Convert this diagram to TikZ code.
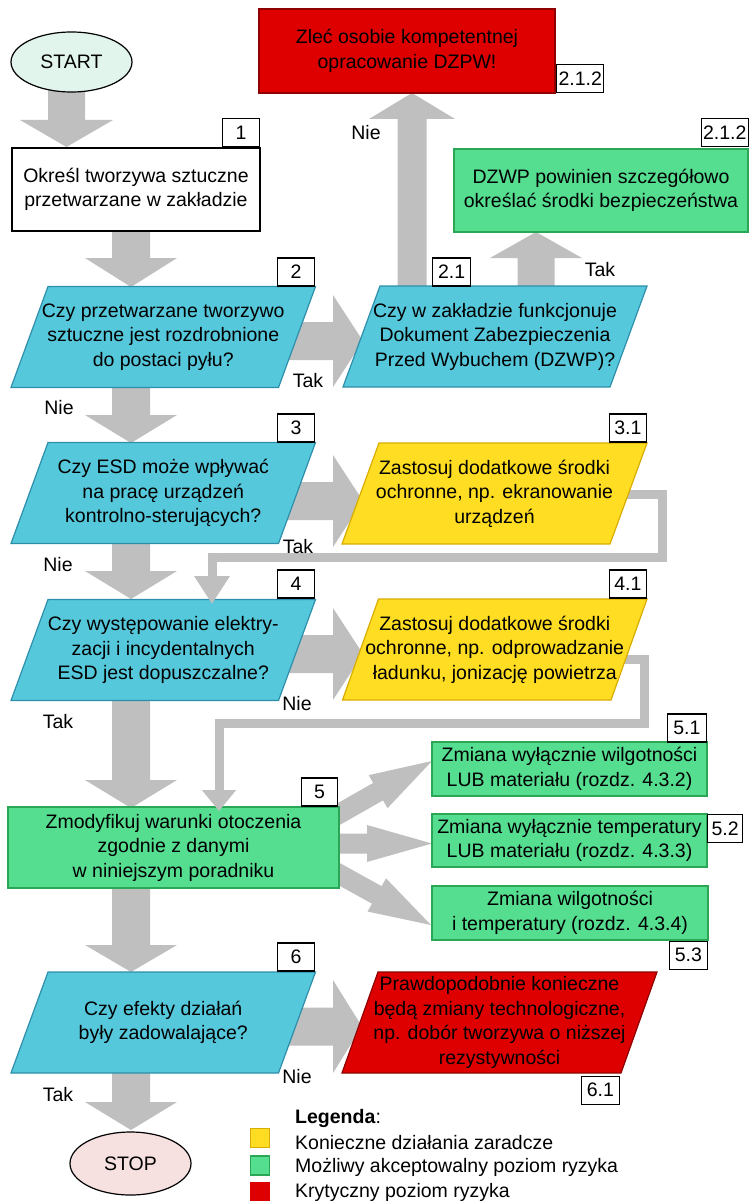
\documentclass[tikz,border=0pt]{standalone}
\usepackage{fontspec}
\setmainfont{Liberation Sans}
\usetikzlibrary{calc,arrows.meta,shapes.geometric}

\definecolor{agray}{HTML}{BFBFBF}
\definecolor{qblue}{HTML}{56C8DC}
\definecolor{qbluedk}{HTML}{2E8FAB}
\definecolor{ayel}{HTML}{FFDD22}
\definecolor{ayeldk}{HTML}{D9AC00}
\definecolor{agrn}{HTML}{55DD90}
\definecolor{agrndk}{HTML}{2BA655}
\definecolor{ared}{HTML}{DE0000}
\definecolor{areddk}{HTML}{900000}
\definecolor{startfill}{HTML}{E2F5EC}
\definecolor{stopfill}{HTML}{F6E0E0}

\newcommand{\ftsz}{\fontsize{19.5}{24.5}\selectfont}

% block arrow: from, to, shaft half width, head half width, head length
\newcommand{\barrow}[5]{%
  \coordinate (bah) at ($(#2)!#5pt!(#1)$);
  \fill[agray] ($(#1)!#3pt!90:(#2)$) -- ($(bah)!#3pt!90:(#2)$) -- ($(bah)!#4pt!90:(#2)$) -- (#2) -- ($(bah)!#4pt!-90:(#2)$) -- ($(bah)!#3pt!-90:(#2)$) -- ($(#1)!#3pt!-90:(#2)$) -- cycle;
}
% parallelogram: name, center, half width at mid height, fill, draw, text, slant
\newcommand{\pbox}[7]{%
  \filldraw[fill=#4, draw=#5, line width=1.2pt] ($(#2)+(-#3+#7,-50.5)$) -- ($(#2)+(#3+#7,-50.5)$) -- ($(#2)+(#3-#7,50.5)$) -- ($(#2)+(-#3-#7,50.5)$) -- cycle;
  \node[txt] (#1) at (#2) {#6};
}

\begin{document}
\begin{tikzpicture}[x=1pt,y=-1pt,
  txt/.style={align=center,font=\ftsz,inner sep=0pt,text=black},
  rbox/.style={txt,line width=1.2pt},
  numbox/.style={draw=black,fill=white,line width=1.1pt,minimum width=37pt,minimum height=28pt,inner xsep=2pt,inner ysep=0pt,font=\ftsz},
  lbl/.style={font=\ftsz,inner sep=0pt},
  loopline/.style={draw=agray,line width=9pt},
  legsq/.style={minimum width=19pt,minimum height=19pt,inner sep=0pt,line width=1.2pt}]

\useasboundingbox (0,0) rectangle (750,1201);

% ---------- connector end points
\coordinate (a0s) at (66.5,88);   \coordinate (a0e) at (66.5,147);
\coordinate (a1s) at (131,228);   \coordinate (a1e) at (131,287);
\coordinate (a2s) at (131,385);   \coordinate (a2e) at (131,443);
\coordinate (a3s) at (131,541);   \coordinate (a3e) at (131,599);
\coordinate (a4s) at (131,699);   \coordinate (a4e) at (131,808);
\coordinate (a5s) at (131,886);   \coordinate (a5e) at (131,972);
\coordinate (a6s) at (131,1071);  \coordinate (a6e) at (131,1130);
\coordinate (h2s) at (280,341);   \coordinate (h2e) at (363,341);
\coordinate (h3s) at (280,501);   \coordinate (h3e) at (363,501);
\coordinate (h4s) at (280,654);   \coordinate (h4e) at (363,654);
\coordinate (h6s) at (280,1026.5);\coordinate (h6e) at (362,1026.5);
\coordinate (u1s) at (412,290);   \coordinate (u1e) at (412,93);
\coordinate (u2s) at (536,290);   \coordinate (u2e) at (536,232);
\coordinate (d1s) at (330,819);   \coordinate (d1e) at (432,761);
\coordinate (d2s) at (330,843.5); \coordinate (d2e) at (432,843.5);
\coordinate (d3s) at (330,869);   \coordinate (d3e) at (431,925);

% ---------- block arrows
\barrow{a0s}{a0e}{18.5}{46.5}{27}
\barrow{a1s}{a1e}{19}{46}{29}
\barrow{a2s}{a2e}{19}{46}{28}
\barrow{a3s}{a3e}{19}{46}{28}
\barrow{a4s}{a4e}{19}{46}{28}
\barrow{a5s}{a5e}{19}{46}{27}
\barrow{a6s}{a6e}{19}{46}{28}
\barrow{h2s}{h2e}{19}{46}{30}
\barrow{h3s}{h3e}{19}{46}{30}
\barrow{h4s}{h4e}{19}{46}{30}
\barrow{h6s}{h6e}{19}{46.5}{29}
\barrow{u1s}{u1e}{14.5}{43}{26}
\barrow{u2s}{u2e}{18.5}{46}{26}
\barrow{d1s}{d1e}{10}{19}{62}
\barrow{d2s}{d2e}{10}{18.5}{65}
\barrow{d3s}{d3e}{10}{19}{62}

% ---------- loop connectors (bodies)
\coordinate (l1a) at (620,494); \coordinate (l1b) at (662,494); \coordinate (l1c) at (662,557);
\coordinate (l1d) at (212,557); \coordinate (l1e) at (212,604);
\coordinate (l2a) at (615,659); \coordinate (l2b) at (644,659); \coordinate (l2c) at (644,723);
\coordinate (l2d) at (219,723); \coordinate (l2e) at (219,811);
\draw[loopline] (l1a) -- (l1b) -- (l1c) -- (l1d) -- ($(l1d)+(0,20)$);
\draw[loopline] (l2a) -- (l2b) -- (l2c) -- (l2d) -- ($(l2d)+(0,60)$);

% ---------- boxes
\node[ellipse,draw=black,fill=startfill,line width=1.2pt,minimum width=121pt,minimum height=60pt,font=\ftsz,inner sep=0pt] (start) at (71.5,62) {START};
\node[rbox,draw=black,fill=white,minimum width=248pt,minimum height=83pt] (b1) at (136,189.5) {Określ tworzywa sztuczne\\przetwarzane w zakładzie};
\node[numbox,anchor=south east] (n1) at (260,147.5) {1};

\pbox{b2}{163.25,337}{133.75}{qblue}{qbluedk}{Czy przetwarzane tworzywo\\sztuczne jest rozdrobnione\\do postaci pyłu?}{18.5}
\node[numbox,anchor=south east] (n2) at (315,286.5) {2};

\pbox{b21}{495,336.5}{133.5}{qblue}{qbluedk}{Czy w zakładzie funkcjonuje\\Dokument Zabezpieczenia\\Przed Wybuchem (DZWP)?}{18.5}
\node[numbox,anchor=south west,minimum width=38pt] (n21) at (432,286.5) {2.1};

\node[rbox,draw=areddk,fill=ared,minimum width=296pt,minimum height=84pt] (b211) at (407,51) {Zleć osobie kompetentnej\\opracowanie DZPW!};
\node[numbox,anchor=south west,minimum width=47pt] (n211) at (556,93) {2.1.2};

\node[rbox,draw=agrndk,fill=agrn,minimum width=294pt,minimum height=83pt] (b212) at (601,190.5) {DZWP powinien szczegółowo\\określać środki bezpieczeństwa};
\node[numbox,anchor=south east,minimum width=46pt] (n212) at (749,147.5) {2.1.2};

\pbox{b3}{163.25,493}{133.75}{qblue}{qbluedk}{Czy ESD może wpływać\\na pracę urządzeń\\kontrolno-sterujących?}{18.5}
\node[numbox,anchor=south east] (n3) at (315,442.5) {3};

\pbox{b31}{494.5,493.5}{134}{ayel}{ayeldk}{Zastosuj dodatkowe środki\\ochronne, np. ekranowanie\\urządzeń}{18.5}
\node[numbox,anchor=south east] (n31) at (647,442.5) {3.1};

\pbox{b4}{163.25,650}{133.75}{qblue}{qbluedk}{Czy występowanie elektry-\\zacji i incydentalnych\\ESD jest dopuszczalne?}{18.5}
\node[numbox,anchor=south east] (n4) at (315,598.5) {4};

\pbox{b41}{494.75,649.5}{134.25}{ayel}{ayeldk}{Zastosuj dodatkowe środki\\ochronne, np. odprowadzanie\\ładunku, jonizację powietrza}{18}
\node[numbox,anchor=south east] (n41) at (647,598.5) {4.1};

\node[rbox,draw=agrndk,fill=agrn,minimum width=331pt,minimum height=81pt] (b5) at (173.5,847.5) {Zmodyfikuj warunki otoczenia\\zgodnie z danymi\\w niniejszym poradniku};
\node[numbox,anchor=south east,minimum width=36pt] (n5) at (338,806.5) {5};

\node[rbox,draw=agrndk,fill=agrn,minimum width=275pt,minimum height=54pt] (b51) at (569.5,769) {Zmiana wyłącznie wilgotności\\LUB materiału (rozdz. 4.3.2)};
\node[numbox,anchor=south east,minimum width=39pt] (n51) at (707,742.5) {5.1};
\node[rbox,draw=agrndk,fill=agrn,minimum width=275pt,minimum height=53pt] (b52) at (569.5,840.5) {Zmiana wyłącznie temperatury\\LUB materiału (rozdz. 4.3.3)};
\node[numbox,anchor=north west,minimum width=35pt] (n52) at (707,814) {5.2};
\node[rbox,draw=agrndk,fill=agrn,minimum width=276pt,minimum height=54pt] (b53) at (570,913) {Zmiana wilgotności\\i temperatury (rozdz. 4.3.4)};
\node[numbox,anchor=north east,minimum width=38pt] (n53) at (708,940.5) {5.3};

\pbox{b6}{163.25,1022.5}{133.75}{qblue}{qbluedk}{Czy efekty działań\\były zadowalające?}{18.5}
\node[numbox,anchor=south east] (n6) at (315,971.5) {6};

\pbox{b61}{499.5,1022.5}{139.5}{ared}{areddk}{Prawdopodobnie konieczne\\będą zmiany technologiczne,\\np. dobór tworzywa o niższej\\rezystywności}{18}
\node[numbox,anchor=north east,minimum width=38pt] (n61) at (620,1075.5) {6.1};

\node[ellipse,draw=black,fill=stopfill,line width=1.2pt,minimum width=121pt,minimum height=63pt,font=\ftsz,inner sep=0pt] (stop) at (130.5,1163.5) {STOP};

% ---------- loop heads (on top)
\draw[loopline,-{Triangle[width=34pt,length=28pt]}] ($(l1d)+(0,-4.5)$) -- (l1e);
\draw[loopline,-{Triangle[width=33pt,length=21pt]}] ($(l2d)+(0,40)$) -- (l2e);

% ---------- labels
\node[lbl] (t2) at (308,381) {Tak};
\node[lbl] (nie2) at (59,408) {Nie};
\node[lbl] (t3) at (298,547) {Tak};
\node[lbl] (nie3) at (58,565) {Nie};
\node[lbl] (nie4) at (297,704) {Nie};
\node[lbl] (t4) at (58,722) {Tak};
\node[lbl] (nie6) at (297,1077) {Nie};
\node[lbl] (t6) at (58,1095) {Tak};
\node[lbl] (nie21) at (366,133) {Nie};
\node[lbl] (t21) at (600,270) {Tak};

% ---------- legend
\node[lbl,anchor=west] (leg) at (295,1118) {\textbf{Legenda}:};
\node[legsq,fill=ayel,draw=ayeldk] (sq1) at (260,1138) {};
\node[legsq,fill=agrn,draw=agrndk] (sq2) at (260,1165.5) {};
\node[legsq,fill=ared,draw=ared] (sq3) at (260,1192.5) {};
\node[lbl,anchor=west] (lg1) at (295,1143) {Konieczne działania zaradcze};
\node[lbl,anchor=west] (lg2) at (295,1167) {Możliwy akceptowalny poziom ryzyka};
\node[lbl,anchor=west] (lg3) at (295,1192) {Krytyczny poziom ryzyka};
\end{tikzpicture}
\end{document}
